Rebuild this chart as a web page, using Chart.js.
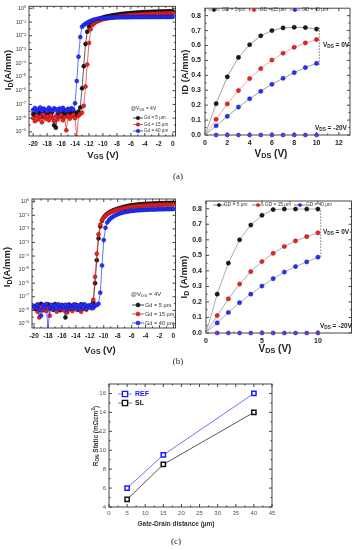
<!DOCTYPE html>
<html>
<head>
<meta charset="utf-8">
<script src="https://cdn.jsdelivr.net/npm/chart.js@4"></script>
<style>
  body { margin: 0; background: #fff; width: 356px; height: 550px; overflow: hidden; position: relative; }
  canvas { position: absolute; }
  .tag { position: absolute; font: 9px "Liberation Serif", serif; color: #222; transform: translateX(-50%); }
</style>
</head>
<body>
<canvas id="a1" width="180" height="162" style="left:0;top:0"></canvas>
<canvas id="a2" width="178" height="162" style="left:178px;top:0"></canvas>
<div class="tag" style="left:178px;top:171px">(a)</div>
<canvas id="b1" width="180" height="175" style="left:0;top:180px"></canvas>
<canvas id="b2" width="178" height="175" style="left:178px;top:180px"></canvas>
<div class="tag" style="left:178px;top:356px">(b)</div>
<canvas id="c1" width="200" height="165" style="left:90px;top:370px"></canvas>
<div class="tag" style="left:176px;top:536px">(c)</div>
<script>
// gate sweep, V
const vgs = [-20,-19.75,-19.5,-19.25,-19,-18.75,-18.5,-18.25,-18,-17.75,-17.5,-17.25,-17,-16.75,-16.5,-16.25,
  -16,-15.75,-15.5,-15.25,-15,-14.75,-14.5,-14.25,-14,-13.75,-13.5,-13.25,-13,-12.75,-12.5,-12.25,
  -12,-11.75,-11.5,-11.25,-11,-10.75,-10.5,-10.25,-10,-9.75,-9.5,-9.25,-9,-8.75,-8.5,-8.25,
  -8,-7.75,-7.5,-7.25,-7,-6.75,-6.5,-6.25,-6,-5.75,-5.5,-5.25,-5,-4.75,-4.5,-4.25,
  -4,-3.75,-3.5,-3.25,-3,-2.75,-2.5,-2.25,-2,-1.75,-1.5,-1.25,-1,-0.75,-0.5,-0.25,0];

// (a) transfer, ID in A/mm
const blackA = [2e-8,1.5e-8,2.5e-8,1.8e-8,3e-8,1.2e-8,2e-8,2.6e-8,
  1.4e-8,2.2e-8,1.6e-8,2.8e-8,3e-9,2e-9,1.8e-8,2.4e-8,
  1.3e-8,2.1e-8,2.7e-8,1.5e-8,2.3e-8,1.7e-8,2.9e-8,2e-8,
  2.5e-8,1.6e-8,3e-8,6e-8,1.5e-6,6e-5,2.5e-3,2e-2,
  0.045,0.07,0.09,0.11,0.13,0.15,0.17,0.19,
  0.21,0.23,0.25,0.265,0.28,0.3,0.315,0.33,
  0.345,0.36,0.375,0.39,0.4,0.415,0.425,0.44,
  0.45,0.46,0.47,0.48,0.49,0.5,0.51,0.515,
  0.525,0.53,0.54,0.545,0.55,0.56,0.565,0.57,
  0.575,0.58,0.585,0.59,0.595,0.6,0.6,0.605,0.61];
const redA = [1e-8,6e-9,1.5e-8,8e-9,1.2e-8,5e-9,1.8e-8,9e-9,
  1.3e-8,7e-9,1.6e-8,1e-8,6e-9,1.4e-8,8e-9,1.2e-8,
  1.7e-8,7e-9,1.1e-8,1.3e-9,1.5e-8,9e-9,1.3e-8,1.8e-8,
  1e-8,4e-10,1.5e-8,2e-8,2.5e-8,8e-8,2e-6,8e-5,
  3e-3,0.03,0.06,0.08,0.1,0.115,0.13,0.145,
  0.16,0.17,0.18,0.19,0.2,0.21,0.22,0.23,
  0.24,0.25,0.26,0.27,0.28,0.29,0.3,0.31,
  0.32,0.33,0.335,0.345,0.35,0.36,0.365,0.37,
  0.375,0.38,0.385,0.39,0.395,0.4,0.405,0.41,
  0.415,0.42,0.42,0.425,0.43,0.43,0.435,0.44,0.44];
const blueA = [4e-8,5.5e-8,3e-8,4.5e-8,6e-8,3.5e-8,5e-8,4e-8,
  3.2e-8,5.8e-8,4.2e-8,3.6e-8,5.2e-8,4.4e-8,3e-8,5e-8,
  3.8e-8,5.6e-8,4e-8,3.4e-8,4.8e-8,3.9e-8,5.3e-8,4.1e-8,
  1.2e-7,5e-6,3e-4,8e-3,0.045,0.06,0.075,0.09,
  0.105,0.12,0.135,0.15,0.16,0.17,0.18,0.19,
  0.195,0.2,0.205,0.21,0.212,0.215,0.217,0.22,
  0.22,0.222,0.223,0.224,0.225,0.226,0.227,0.227,
  0.228,0.228,0.229,0.229,0.23,0.23,0.23,0.231,
  0.231,0.231,0.232,0.232,0.232,0.233,0.233,0.233,
  0.234,0.234,0.234,0.235,0.235,0.235,0.235,0.236,0.236];

// (b) transfer
const blackB = [2e-8,1.2e-8,2.6e-8,1.5e-8,3e-8,1e-8,2.2e-8,1.7e-8,
  2.8e-8,1.3e-8,2.4e-8,1.1e-8,2.9e-8,1.6e-8,2.1e-8,1e-8,
  2.5e-8,1.4e-8,3e-9,1.8e-8,2.7e-8,1.2e-8,2.3e-8,1.5e-8,
  2.6e-8,1.1e-8,2e-8,2.8e-8,1.3e-8,2.4e-8,1.6e-8,2.2e-8,
  1.9e-8,2.5e-8,4e-8,1e-6,5e-5,2e-3,0.015,0.04,
  0.07,0.1,0.13,0.16,0.19,0.22,0.25,0.28,
  0.31,0.34,0.37,0.4,0.43,0.46,0.49,0.52,
  0.55,0.57,0.59,0.61,0.63,0.65,0.66,0.68,
  0.69,0.7,0.72,0.73,0.74,0.75,0.76,0.77,
  0.78,0.79,0.79,0.8,0.81,0.81,0.82,0.82,0.83];
const redB = [1.5e-8,2.2e-8,8e-9,3e-9,1.8e-8,1.1e-8,2.5e-8,9e-9,
  1.6e-8,4e-9,2e-8,1.3e-8,2.3e-8,8e-9,1.7e-8,1.2e-8,
  2.4e-8,1e-8,1.9e-8,7e-9,2.1e-8,1.4e-8,9e-9,2.6e-8,
  1.2e-8,1.8e-8,2.2e-8,8e-9,1.5e-8,2e-8,1.1e-8,1.7e-8,
  2.3e-8,1.4e-8,6e-8,3e-6,1.5e-4,4e-3,0.02,0.045,
  0.07,0.095,0.12,0.145,0.17,0.195,0.22,0.245,
  0.27,0.29,0.31,0.33,0.35,0.37,0.39,0.41,
  0.43,0.44,0.46,0.47,0.49,0.5,0.51,0.52,
  0.53,0.54,0.55,0.56,0.57,0.58,0.58,0.59,
  0.6,0.6,0.61,0.62,0.62,0.63,0.63,0.64,0.64];
const blueB = [2e-8,1.4e-8,2.7e-8,1.1e-8,4e-9,2.3e-8,1.6e-8,2.9e-8,
  3e-10,1.8e-8,2.5e-8,1.2e-8,2.1e-8,1.5e-8,2.8e-8,1.3e-8,
  2.2e-8,1.7e-8,2.6e-8,1e-8,2.4e-8,1.9e-8,1.4e-8,2.7e-8,
  1.6e-8,2.3e-8,1.2e-8,2.5e-8,1.8e-8,2.8e-8,1.3e-8,2.1e-8,
  1.7e-8,2.6e-8,1.5e-8,2.2e-8,2.5e-8,3e-8,2e-7,2e-5,
  1.5e-3,0.012,0.03,0.045,0.06,0.075,0.09,0.105,
  0.12,0.135,0.15,0.16,0.175,0.185,0.195,0.205,
  0.215,0.22,0.23,0.235,0.24,0.245,0.25,0.255,
  0.26,0.26,0.265,0.27,0.27,0.275,0.275,0.28,
  0.28,0.28,0.285,0.285,0.29,0.29,0.29,0.295,0.295];

// output curves, VDS in V, ID in A/mm
const vds = [0,1,2,3,4,5,6,7,8,9,10];
const gd5A = [0,0.21,0.39,0.52,0.605,0.665,0.7,0.718,0.722,0.72,0.71];
const gd15A = [0,0.105,0.208,0.298,0.378,0.445,0.502,0.548,0.588,0.617,0.64];
const gd40A = [0,0.062,0.125,0.187,0.243,0.293,0.34,0.38,0.418,0.452,0.48];
const gd5B = [0,0.25,0.45,0.6,0.695,0.758,0.795,0.798,0.798,0.798,0.798];
const gd15B = [0,0.112,0.22,0.315,0.395,0.46,0.513,0.557,0.593,0.62,0.645];
const gd40B = [0,0.065,0.132,0.195,0.25,0.302,0.35,0.392,0.428,0.458,0.488];
const offState = [0,0,0,0,0,0,0,0,0,0,0];
const spanA = [0.47, 0.725];
const spanB = [0.49, 0.8];
const spanX = 10.25;

// (c) RON vs gate-drain distance
const gdDist = [5, 15, 40];
const ronRef = [6, 9.5, 16];
const ronSl = [4.8, 8.5, 14];

// tick labels
const logTicks = [1e-9,1e-8,1e-7,1e-6,1e-5,1e-4,1e-3,1e-2,1e-1,1];
const logTickLabels = ['10⁻⁹','10⁻⁸','10⁻⁷','10⁻⁶','10⁻⁵','10⁻⁴','10⁻³','10⁻²','10⁻¹','10⁰'];
const vgsTicks = [-20,-18,-16,-14,-12,-10,-8,-6,-4,-2,0];
const idTicks = [0,0.1,0.2,0.3,0.4,0.5,0.6,0.7,0.8];
const idTickLabels = ['0.0','0.1','0.2','0.3','0.4','0.5','0.6','0.7','0.8'];
const vdsTicksA = [0,2,4,6,8,10,12];
const vdsTicksB = [0,5,10];
const gdTicks = [0,5,10,15,20,25,30,35,40,45];
const ronTicks = [4,6,8,10,12,14,16];
const gdLabels = ['Gd = 5 µm', 'Gd = 15 µm', 'Gd = 40 µm'];
const GDLabels = ['GD = 5 µm', 'GD = 15 µm', 'GD = 40 µm'];

const FONT = '"Liberation Sans", Arial, sans-serif';
const BLK = '#1a1a1a', RED = '#ee2222', BLU = '#2233ff', OFF = '#4b3cff';
const BLK_E = '#000', RED_E = '#991111', BLU_E = '#1111aa';

// text with sub/superscript pieces: [text, 0 normal | 1 sub | 2 sup]
function rich(ctx, parts, x, y, size, opt) {
  opt = opt || {};
  const bold = opt.bold === false ? '' : 'bold ';
  ctx.save();
  ctx.translate(x, y);
  if (opt.rot) ctx.rotate(-Math.PI / 2);
  ctx.fillStyle = opt.color || '#222';
  ctx.textBaseline = 'alphabetic';
  ctx.textAlign = 'left';
  const fs = p => p[1] ? size * (opt.subScale || 0.72) : size;
  let w = 0;
  for (const p of parts) { ctx.font = bold + fs(p) + 'px ' + FONT; w += ctx.measureText(p[0]).width; }
  let cx = opt.align === 'left' ? 0 : opt.align === 'right' ? -w : -w / 2;
  for (const p of parts) {
    ctx.font = bold + fs(p) + 'px ' + FONT;
    const dy = p[1] === 1 ? size * (opt.subDrop || 0.2) : p[1] === 2 ? -size * 0.4 : 0;
    ctx.fillText(p[0], cx, dy);
    cx += ctx.measureText(p[0]).width;
  }
  ctx.restore();
}

// box round the plot and inward ticks on all four sides
function frame(chart) {
  const { ctx, chartArea: a } = chart;
  const xs = chart.scales.x, ys = chart.scales.y;
  ctx.save();
  ctx.strokeStyle = '#333';
  ctx.lineWidth = 0.9;
  ctx.strokeRect(a.left, a.top, a.right - a.left, a.bottom - a.top);
  ctx.beginPath();
  const xp = xs.ticks.map(t => xs.getPixelForValue(t.value));
  const yp = ys.ticks.map(t => ys.getPixelForValue(t.value));
  const xm = (px, l) => { ctx.moveTo(px, a.bottom); ctx.lineTo(px, a.bottom - l); ctx.moveTo(px, a.top); ctx.lineTo(px, a.top + l); };
  const ym = (py, l) => { ctx.moveTo(a.left, py); ctx.lineTo(a.left + l, py); ctx.moveTo(a.right, py); ctx.lineTo(a.right - l, py); };
  xp.forEach((p, i) => { xm(p, 3); if (i < xp.length - 1) xm((p + xp[i + 1]) / 2, 1.6); });
  yp.forEach((p, i) => { ym(p, 3); if (i < yp.length - 1) ym((p + yp[i + 1]) / 2, 1.6); });
  ctx.stroke();
  ctx.restore();
}

function sym(ctx, x, y, fill, edge, line, half, r, shape) {
  ctx.save();
  ctx.strokeStyle = line;
  ctx.lineWidth = 0.8;
  ctx.beginPath(); ctx.moveTo(x - half, y); ctx.lineTo(x + half, y); ctx.stroke();
  ctx.beginPath();
  if (shape === 'rect') ctx.rect(x - r, y - r, 2 * r, 2 * r); else ctx.arc(x, y, r, 0, Math.PI * 2);
  ctx.fillStyle = fill; ctx.fill();
  ctx.lineWidth = shape === 'rect' ? 1.4 : 0.5;
  ctx.strokeStyle = edge; ctx.stroke();
  ctx.restore();
}

function plainText(ctx, txt, x, y, size, color, bold, align) {
  ctx.save();
  ctx.font = (bold ? 'bold ' : '') + size + 'px ' + FONT;
  ctx.fillStyle = color;
  ctx.textAlign = align || 'left';
  ctx.textBaseline = 'middle';
  ctx.fillText(txt, x, y);
  ctx.restore();
}

const fixTicks = list => s => { s.ticks = list.map(v => ({ value: v })); };
const noGrid = { display: false, drawTicks: false, tickLength: 0 };

function transfer(vals, color, edge, order) {
  return {
    data: vgs.map((v, i) => ({ x: v, y: vals[i] })),
    borderColor: color, borderWidth: 0.7,
    pointRadius: 2, pointBackgroundColor: color, pointBorderColor: edge, pointBorderWidth: 0.5,
    order
  };
}
function output(vals, color, edge, line, order) {
  return {
    data: vds.map((v, i) => ({ x: v, y: vals[i] })),
    borderColor: line, borderWidth: 0.8,
    pointRadius: c => c.dataIndex === 0 ? 0 : 2.1,
    pointBackgroundColor: color, pointBorderColor: edge, pointBorderWidth: 0.5,
    order
  };
}
function offData(color, order) {
  return {
    data: vds.map((v, i) => ({ x: v, y: offState[i] })),
    borderWidth: 0, showLine: false, clip: false,
    pointRadius: c => c.dataIndex === 0 ? 0 : 1.9,
    pointBackgroundColor: color, pointBorderColor: color, pointBorderWidth: 0.3,
    order
  };
}
function span(vals) {
  return {
    data: vals.map(v => ({ x: spanX, y: v })),
    borderColor: '#777', borderWidth: 1, borderDash: [1.5, 1.5], pointRadius: 0, order: 0
  };
}

function decoPlugin(id, draw) {
  return {
    id: id + 'deco',
    beforeDatasetsDraw: chart => frame(chart),
    afterDraw: chart => draw(chart.ctx)
  };
}

function transferChart(id, dsets, xMin, xMax, yMin, yMax, pad, yW, xH, draw) {
  return new Chart(document.getElementById(id), {
    type: 'line',
    data: { datasets: dsets },
    options: {
      animation: false, responsive: false,
      layout: { padding: pad },
      plugins: { legend: { display: false }, tooltip: { enabled: false } },
      scales: {
        x: {
          type: 'linear', min: xMin, max: xMax, grid: noGrid, border: { display: false },
          afterBuildTicks: fixTicks(vgsTicks), afterFit: s => { s.height = xH; },
          ticks: { font: { size: 6.5, weight: 'bold', family: FONT }, color: '#222', padding: 4, maxRotation: 0, autoSkip: false }
        },
        y: {
          type: 'logarithmic', min: yMin, max: yMax, grid: noGrid, border: { display: false },
          afterBuildTicks: fixTicks(logTicks), afterFit: s => { s.width = yW; },
          ticks: { callback: (v, i) => logTickLabels[i], font: { size: 5.5, family: FONT }, color: '#333', padding: 3, autoSkip: false }
        }
      }
    },
    plugins: [decoPlugin(id, draw)]
  });
}

function outputChart(id, dsets, xTicks, pad, yW, xH, draw) {
  return new Chart(document.getElementById(id), {
    type: 'line',
    data: { datasets: dsets },
    options: {
      animation: false, responsive: false,
      layout: { padding: pad },
      plugins: { legend: { display: false }, tooltip: { enabled: false } },
      scales: {
        x: {
          type: 'linear', min: 0, max: 13, grid: noGrid, border: { display: false },
          afterBuildTicks: fixTicks(xTicks), afterFit: s => { s.height = xH; },
          ticks: { font: { size: 7, weight: 'bold', family: FONT }, color: '#222', padding: 4, maxRotation: 0, autoSkip: false }
        },
        y: {
          type: 'linear', min: 0, max: 0.85, grid: noGrid, border: { display: false },
          afterBuildTicks: fixTicks(idTicks), afterFit: s => { s.width = yW; },
          ticks: { callback: (v, i) => idTickLabels[i], font: { size: 7, weight: 'bold', family: FONT }, color: '#222', padding: 4, autoSkip: false }
        }
      }
    },
    plugins: [decoPlugin(id, draw)]
  });
}

// (a) left
transferChart('a1', [
  transfer(blackA, BLK, BLK_E, 3), transfer(redA, RED, RED_E, 2), transfer(blueA, BLU, BLU_E, 1)
], -20.6, 0.4, 5e-10, 1.4, { top: 3, right: 4 }, 29, 26, ctx => {
  rich(ctx, [['V', 0], ['GS', 1], [' (V)', 0]], 103, 158, 9.5, { subDrop: 0.12 });
  rich(ctx, [['I', 0], ['D', 1], ['(A/mm)', 0]], 11, 70, 9.5, { rot: true });
  rich(ctx, [['@V', 0], ['DS', 1], [' = 4V', 0]], 131, 110, 5, { bold: false, align: 'left', color: '#333' });
  const ys = [118, 124.5, 131];
  [[BLK, BLK_E], [RED, RED_E], [BLU, BLU_E]].forEach((c, i) => {
    sym(ctx, 138, ys[i], c[0], c[1], c[0], 5, 1.8);
    plainText(ctx, gdLabels[i], 144, ys[i], 4.6, '#333', false);
  });
});

// (a) right
outputChart('a2', [
  output(gd5A, BLK, BLK_E, '#888', 3), output(gd15A, RED, RED_E, '#f29090', 2), output(gd40A, BLU, BLU_E, '#888', 1),
  offData(BLK, 6), offData(RED, 5), offData(OFF, 4), span(spanA)
], vdsTicksA, { top: 5, right: 6 }, 27, 27, ctx => {
  rich(ctx, [['V', 0], ['DS', 1], [' (V)', 0]], 93, 157, 10, { subDrop: 0.12 });
  rich(ctx, [['ID (A/mm)', 0]], 10, 72, 9.5, { rot: true });
  const xs = [[36, 44], [76, 82], [117, 124]];
  [[BLK, BLK_E, '#666'], [RED, RED_E, '#f29090'], [BLU, BLU_E, '#666']].forEach((c, i) => {
    sym(ctx, xs[i][0], 10, c[0], c[1], c[2], 5.5, 1.6);
    plainText(ctx, GDLabels[i], xs[i][1], 10, 4.8, '#333', false);
  });
  rich(ctx, [['V', 0], ['DS', 1], [' = 0V', 0]], 145, 47, 6.5, { align: 'left' });
  rich(ctx, [['V', 0], ['DS', 1], [' = -20V', 0]], 137, 130, 6.5, { align: 'left' });
});

// (b) left
transferChart('b1', [
  transfer(blackB, BLK, BLK_E, 3), transfer(redB, RED, RED_E, 2), transfer(blueB, BLU, BLU_E, 1)
], -20.3, 0.3, 5e-10, 1.6, { top: 19, right: 3 }, 32, 27, ctx => {
  rich(ctx, [['V', 0], ['GS', 1], [' (V)', 0]], 100, 173, 9.5, { subDrop: 0.12 });
  rich(ctx, [['I', 0], ['D', 1], ['(A/mm)', 0]], 10, 87, 9.5, { rot: true });
  rich(ctx, [['@V', 0], ['DS', 1], [' = 4V', 0]], 131, 116, 6, { bold: false, align: 'left', color: '#333' });
  const ys = [125, 134, 143];
  [[BLK, BLK_E], [RED, RED_E], [BLU, BLU_E]].forEach((c, i) => {
    sym(ctx, 138, ys[i], c[0], c[1], c[0], 6, 2);
    plainText(ctx, gdLabels[i], 145, ys[i], 5.6, '#333', false);
  });
});

// (b) right
outputChart('b2', [
  output(gd5B, BLK, BLK_E, '#999', 3), output(gd15B, RED, RED_E, '#999', 2), output(gd40B, BLU, BLU_E, '#999', 1),
  offData(BLK, 6), offData(RED, 5), offData(OFF, 4), span(spanB)
], vdsTicksB, { top: 21, right: 1 }, 28, 22, ctx => {
  rich(ctx, [['V', 0], ['DS', 1], [' (V)', 0]], 97, 172, 10, { subDrop: 0.12 });
  rich(ctx, [['I', 0], ['D', 1], [' (A/mm)', 0]], 9, 97, 9.5, { rot: true });
  const xs = [[41, 46], [80, 87], [122, 128]];
  [[BLK, BLK_E], [RED, RED_E], [BLU, BLU_E]].forEach((c, i) => {
    sym(ctx, xs[i][0], 25, c[0], c[1], '#666', 6, 1.6);
    plainText(ctx, GDLabels[i], xs[i][1], 25, 4.8, '#333', false);
  });
  rich(ctx, [['V', 0], ['DS', 1], [' = 0V', 0]], 145, 54, 6.5, { align: 'left' });
  rich(ctx, [['V', 0], ['DS', 1], [' = -20V', 0]], 142, 148, 6.5, { align: 'left' });
});

// (c)
new Chart(document.getElementById('c1'), {
  type: 'line',
  data: {
    datasets: [
      {
        data: gdDist.map((v, i) => ({ x: v, y: ronRef[i] })),
        borderColor: '#7070ff', borderWidth: 1, pointStyle: 'rect', pointRadius: 3,
        pointBackgroundColor: '#fff', pointBorderColor: '#1a1aff', pointBorderWidth: 1.5
      },
      {
        data: gdDist.map((v, i) => ({ x: v, y: ronSl[i] })),
        borderColor: '#555', borderWidth: 1, pointStyle: 'rect', pointRadius: 3,
        pointBackgroundColor: '#fff', pointBorderColor: '#111', pointBorderWidth: 1.5
      }
    ]
  },
  options: {
    animation: false, responsive: false,
    layout: { padding: { top: 14, right: 18 } },
    plugins: { legend: { display: false }, tooltip: { enabled: false } },
    scales: {
      x: {
        type: 'linear', min: 0, max: 45, grid: noGrid, border: { display: false },
        afterBuildTicks: fixTicks(gdTicks), afterFit: s => { s.height = 28; },
        ticks: { font: { size: 6, family: FONT }, color: '#555', padding: 3, maxRotation: 0, autoSkip: false }
      },
      y: {
        type: 'linear', min: 4, max: 17, grid: noGrid, border: { display: false },
        afterBuildTicks: fixTicks(ronTicks), afterFit: s => { s.width = 19; },
        ticks: { font: { size: 6, family: FONT }, color: '#555', padding: 3, autoSkip: false }
      }
    }
  },
  plugins: [decoPlugin('c', ctx => {
    plainText(ctx, 'Gate-Drain distance (µm)', 86, 154, 6.5, '#333', true, 'center');
    rich(ctx, [['R', 0], ['ON', 1], [' Static (mΩcm', 0], ['2', 2], [')', 0]], 8, 66, 6.5, { rot: true, color: '#333' });
    sym(ctx, 35, 24, '#fff', '#1a1aff', '#7070ff', 7, 2.6, 'rect');
    plainText(ctx, 'REF', 45, 24, 7, '#1a1aff', true);
    sym(ctx, 35, 33, '#fff', '#111', '#555', 7, 2.6, 'rect');
    plainText(ctx, 'SL', 45, 33, 7, '#111', true);
  })]
});
</script>
</body>
</html>
